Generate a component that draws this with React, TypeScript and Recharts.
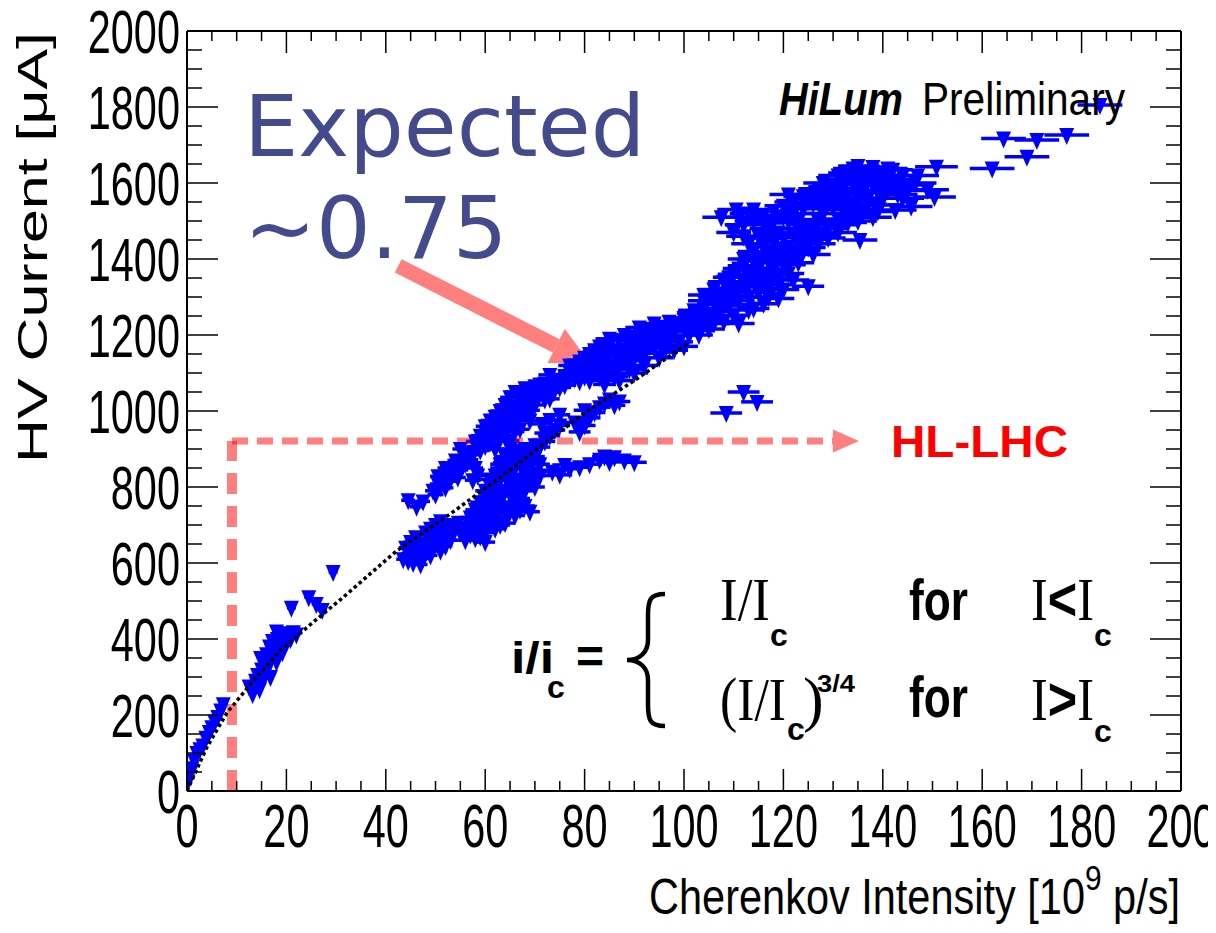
import React from 'react';
import { ScatterChart, Scatter, XAxis, YAxis, ErrorBar, ReferenceLine } from 'recharts';

// Cherenkov intensity [1e9 p/s] vs HV current [uA]
const originRun = [[0.2, 25], [0.6, 45], [1, 60], [1.5, 80], [2, 100], [2.6, 110], [3.2, 120], [3.8, 140], [4.5, 155], [5, 168], [5.6, 182], [6.2, 195], [6.8, 212], [7.3, 228]];
const lowBlob = [[12.5, 275], [13.2, 255], [13.8, 290], [14.2, 305], [14.6, 268], [15, 320], [15.2, 290], [15.6, 340], [15.8, 310], [16, 360], [16.4, 330], [16.6, 380], [17, 350], [17.2, 395], [17.6, 370], [18, 340], [18.2, 400], [18.6, 385], [19, 410], [19.2, 365], [19.8, 395], [20.2, 415], [20.8, 400], [21.4, 418], [22, 412], [16.8, 300], [18, 420], [14.8, 350], [14, 280], [15, 300], [16, 340], [17, 370], [18, 360], [19, 390], [20, 390], [21, 405]];
const midRun = [[21, 482], [24.5, 510], [26, 492], [27.2, 476], [29.4, 576]];
const dBlob = [[43.5, 610], [44.5, 625], [45.2, 640], [46, 618], [46.5, 632], [47.2, 650], [48, 638], [48.6, 662], [49.4, 648], [50, 672], [50.8, 660], [51.5, 688], [52.2, 675], [53, 700], [53.8, 688], [54.6, 706], [45.5, 600], [52, 645], [47.5, 612], [44, 640], [45, 655], [46, 668], [48, 680], [49, 690], [50, 700], [51, 710], [49, 620], [51, 632], [53, 660], [55, 680], [44.5, 605], [47, 596]];
const eRun = [[44.5, 765], [46.2, 748], [47.5, 762]];
const fBand = [[49.5, 790], [50.5, 808], [51.5, 822], [52, 798], [53, 838], [54, 852], [55, 845], [56, 862], [57, 872], [52.8, 815], [50.5, 828], [57.5, 818], [58.5, 830], [54.5, 825], [50, 780], [51, 800], [53, 820], [55, 860], [56, 880], [54, 870], [52, 850], [58, 850], [57, 890], [55, 900]];
const gBand = [[57.5, 885], [59, 896], [60, 908], [61, 918], [62, 900], [63, 926], [64, 936], [65, 922], [66, 946], [67, 952], [60, 928], [58.2, 906], [61.5, 940], [63.5, 955], [60, 945], [61, 960], [64, 955], [65, 965], [58, 920], [59, 935], [60, 960], [61, 975], [62, 945], [63, 960]];
const hBand = [[62, 962], [63, 978], [64, 992], [65, 1002], [66, 1012], [67, 1022], [68, 1032], [69, 1002], [70, 1040], [71, 1046], [72, 1052], [73, 1032], [74, 1056], [66, 978], [68, 992], [64, 1016], [70, 1016], [65, 1036], [62, 985], [63, 1000], [66, 1050], [68, 1060], [70, 1065], [69, 1050], [67, 1040], [71, 1070], [73, 1070], [67, 985], [69, 975], [64, 975], [65, 985], [66, 995], [67, 1005], [68, 1015], [69, 1025], [70, 1030], [71, 1060], [72, 1030], [73, 1050]];
const iBand = [[72, 1072], [74, 1082], [75, 1062], [76, 1092], [77, 1102], [78, 1086], [79, 1112], [80, 1100], [81, 1120], [82, 1106], [83, 1126], [76, 1068], [79, 1078], [73, 1095], [77, 1120], [78, 1120], [80, 1140], [82, 1160], [81, 1080], [84, 1070], [74, 1070], [75, 1080], [76, 1080], [77, 1085], [79, 1130], [81, 1150], [83, 1170]];
const jBand = [[84, 1130], [86, 1150], [88, 1160], [90, 1170], [92, 1180], [94, 1190], [96, 1200], [98, 1210], [100, 1220], [102, 1230], [104, 1236], [106, 1242], [85, 1172], [87, 1186], [89, 1196], [91, 1202], [93, 1216], [95, 1222], [97, 1190], [99, 1182], [101, 1200], [88, 1132], [90, 1146], [92, 1152], [94, 1166], [83, 1152], [86, 1116], [96, 1172], [82, 1140], [84, 1100], [85, 1190], [88, 1200], [91, 1220], [94, 1230], [97, 1235], [100, 1245], [86, 1090], [89, 1110], [92, 1120], [95, 1140], [98, 1160], [100, 1170], [103, 1200], [90, 1100], [87, 1080], [96, 1155], [85, 1150], [87, 1160], [89, 1175], [91, 1185], [93, 1195], [95, 1205], [97, 1215], [99, 1230], [101, 1240], [80, 1090], [83, 1090], [85, 1110], [87, 1120], [89, 1140], [91, 1160], [93, 1170], [95, 1185]];
const kBand = [[101, 1226], [103, 1242], [105, 1252], [107, 1262], [109, 1276], [111, 1290], [113, 1300], [115, 1312], [117, 1322], [119, 1332], [104, 1270], [106, 1286], [108, 1300], [110, 1320], [112, 1340], [114, 1350], [116, 1362], [118, 1372], [110, 1252], [113, 1266], [116, 1282], [119, 1296], [107, 1310], [105, 1216], [108, 1236], [120, 1386], [121, 1362], [117, 1392], [112, 1382], [109, 1352], [125, 1328], [102, 1250], [104, 1290], [106, 1320], [108, 1340], [110, 1360], [112, 1400], [114, 1420], [103, 1212], [111, 1230], [114, 1270], [117, 1300], [120, 1320], [122, 1345], [118, 1350], [115, 1375], [113, 1330], [106, 1230], [109, 1320], [100, 1240], [121, 1410], [123, 1390], [102, 1265], [104, 1305], [107, 1285], [109, 1300], [111, 1315], [113, 1355], [115, 1340], [117, 1350], [119, 1360], [108, 1280], [111, 1375], [114, 1395], [118, 1400], [122, 1415]];
const lBand = [[115, 1402], [117, 1412], [119, 1422], [121, 1432], [123, 1442], [125, 1452], [127, 1462], [118, 1442], [120, 1456], [122, 1466], [124, 1422], [126, 1412], [116, 1432], [120, 1396], [135.4, 1450], [110, 1470], [115, 1460], [119, 1470], [123, 1480], [121, 1385], [123, 1415], [125, 1430], [127, 1440], [129, 1455], [113, 1440], [116, 1455], [118, 1465], [124, 1470], [126, 1480], [112, 1460]];
const mBand = [[107.5, 1510], [110.5, 1530], [112, 1490], [114, 1500], [116, 1515], [118, 1526], [120, 1540], [122, 1550], [124, 1532], [126, 1546], [128, 1520], [130, 1536], [132, 1550], [134, 1540], [136, 1526], [138, 1510], [121, 1500], [125, 1490], [129, 1480], [133, 1496], [117, 1480], [113, 1520], [127, 1556], [135, 1556], [139, 1542], [131, 1470], [127, 1500], [131, 1505], [135, 1500], [137, 1560], [140, 1560], [129, 1560], [125, 1560], [121, 1570], [133, 1570], [122, 1520], [118, 1500], [114, 1530], [111, 1510], [131, 1490], [133, 1520], [135, 1530], [137, 1545], [139, 1525], [128, 1540], [130, 1555], [132, 1530], [134, 1515], [123, 1500], [120, 1510], [116, 1495]];
const nBand = [[130, 1576], [131, 1596], [132, 1610], [133, 1626], [134, 1638], [135, 1620], [136, 1602], [137, 1616], [138, 1630], [139, 1612], [140, 1596], [141, 1620], [142, 1606], [143, 1590], [128, 1580], [126, 1570], [124, 1565], [136, 1580], [139, 1576], [132, 1586], [128, 1600], [131, 1620], [135, 1645], [138, 1642], [141, 1638], [144, 1620], [144, 1595], [141, 1580], [143, 1570], [145, 1580], [136, 1575], [138, 1595], [140, 1615], [142, 1635], [134, 1600], [129, 1590], [127, 1585]];
const oRun = [[142.5, 1529], [145.7, 1538], [146.5, 1600], [149, 1582], [150.4, 1563], [150.8, 1643], [147, 1620], [144, 1560]];
const qRun = [[162, 1638], [164.3, 1717], [169, 1669], [171, 1713], [177, 1726], [183.7, 1805]];
const rBand = [[56, 660], [57, 675], [58, 690], [59, 700], [60, 680], [61, 710], [62, 720], [63, 700], [64, 735], [65, 745], [66, 725], [67, 740], [68, 750], [58, 665], [60, 655], [62, 690], [64, 705], [66, 760], [69, 735], [57, 700], [59, 670], [56, 690], [57, 720], [58, 740], [58, 710], [59, 730], [60, 720], [61, 740], [62, 750], [63, 760], [63, 740]];
const sBand = [[60, 760], [61, 780], [62, 800], [63, 820], [64, 840], [65, 860], [66, 880], [67, 895], [68, 870], [69, 850], [70, 830], [71, 860], [62, 770], [64, 790], [66, 810], [68, 830], [70, 880], [65, 830], [63, 850], [67, 800], [69, 900], [61, 820], [59, 760], [60, 790], [61, 800], [62, 830], [63, 860], [64, 880], [65, 900], [66, 850], [67, 860], [68, 900], [69, 880], [70, 910], [67, 770], [68, 790], [69, 810], [70, 800], [71, 830], [65, 780], [66, 790], [67, 820], [65, 800]];
const tRun = [[71, 905], [72, 920], [73, 935], [74, 950], [75, 962], [72, 942], [71.5, 966], [73, 976], [75, 990]];
const uRun = [[73.5, 840], [75, 832], [77, 848], [79, 852], [81, 860], [83, 872], [85, 866], [86, 878], [88, 870], [90, 865], [76, 858], [84, 880]];
const vRun = [[79, 945], [80, 962], [81, 982], [82, 996], [83, 1010], [84, 1020], [85, 1030], [86, 1015], [87, 1025], [80, 1002], [78, 970]];
const wRun = [[108.5, 995], [112, 1050], [114.7, 1024]];

// horizontal error (half width) of each cluster
const clusters: [number[][], number][] = [
  [originRun, 0.3], [lowBlob, 0.6], [midRun, 0.9], [dBlob, 1.4], [eRun, 1.4], [fBand, 1.6],
  [gBand, 1.9], [hBand, 2], [iBand, 2.3], [jBand, 2.8], [kBand, 3.2], [lBand, 3.5], [mBand, 3.8],
  [nBand, 4], [oRun, 4.3], [qRun, 4.5], [rBand, 2], [sBand, 2], [tRun, 2.1], [uRun, 2.5],
  [vRun, 2.2], [wRun, 3.2],
];

// dotted ~0.75 expectation curve
const fitX = [0, 4, 8, 14, 19, 25, 31, 42, 52, 62, 71, 80, 90, 101];
const fitY = [0, 115, 205, 300, 372, 440, 505, 630, 720, 815, 905, 995, 1080, 1180];

const xTicks = [0, 5, 10, 15, 20, 25, 30, 35, 40, 45, 50, 55, 60, 65, 70, 75, 80, 85, 90, 95, 100, 105, 110, 115, 120, 125, 130, 135, 140, 145, 150, 155, 160, 165, 170, 175, 180, 185, 190, 195, 200];
const yTicks = [0, 50, 100, 150, 200, 250, 300, 350, 400, 450, 500, 550, 600, 650, 700, 750, 800, 850, 900, 950, 1000, 1050, 1100, 1150, 1200, 1250, 1300, 1350, 1400, 1450, 1500, 1550, 1600, 1650, 1700, 1750, 1800, 1850, 1900, 1950, 2000];

const hlLhcLevel = 921;
const hlLhcIntensity = 9.05;
const hlArrowEnd = 135.2;
const bigArrowFrom = { x: 42.5, y: 1382 };
const bigArrowTo = { x: 81.1, y: 1126 };

const points = clusters.flatMap(([pts, ex]) => pts.map(([x, y]) => ({ x, y, ex })));
const fitData = fitX.map((x, i) => ({ x, y: fitY[i] }));

const SANS = 'Liberation Sans, Arial, Helvetica, sans-serif';
const SERIF = 'Liberation Serif, Times New Roman, serif';

const Triangle = ({ cx, cy }: any) => (
  <polygon points={`${cx - 7.5},${cy - 7} ${cx + 7.5},${cy - 7} ${cx},${cy + 10}`} fill="#0000ff" />
);

const FitLine = ({ points: pts }: any) => (
  <polyline points={pts.map((p: any) => `${p.x},${p.y}`).join(' ')} fill="none" stroke="#000" strokeWidth={3.5} strokeDasharray="3.5 3" />
);

const BottomTick = ({ x, y, payload }: any) => {
  const major = payload.value % 20 === 0;
  return (
    <g>
      <line x1={x} x2={x} y1={y} y2={y - (major ? 22 : 10)} stroke="#000" strokeWidth={1.5} />
      {major && (
        <text transform={`translate(${x},${y + 56}) scale(0.68,1)`} textAnchor="middle" fontFamily={SANS} fontSize={61} fill="#000">
          {payload.value}
        </text>
      )}
    </g>
  );
};

const TopTick = ({ x, y, payload }: any) => {
  const major = payload.value % 20 === 0;
  return <line x1={x} x2={x} y1={y} y2={y + (major ? 22 : 10)} stroke="#000" strokeWidth={1.5} />;
};

const LeftTick = ({ x, y, payload }: any) => {
  const major = payload.value % 200 === 0;
  return (
    <g>
      <line x1={x} x2={x + (major ? 31 : 15)} y1={y} y2={y} stroke="#000" strokeWidth={1.5} />
      {major && (
        <text transform={`translate(${x - 7},${y + 22}) scale(0.68,1)`} textAnchor="end" fontFamily={SANS} fontSize={61} fill="#000">
          {payload.value}
        </text>
      )}
    </g>
  );
};

const RightTick = ({ x, y, payload }: any) => {
  const major = payload.value % 200 === 0;
  return <line x1={x} x2={x - (major ? 31 : 15)} y1={y} y2={y} stroke="#000" strokeWidth={1.5} />;
};

const VerticalDash = ({ x1, y1, x2, y2 }: any) => (
  <line x1={x1} y1={y1} x2={x2} y2={y2} stroke="#ff0000" strokeOpacity={0.5} strokeWidth={10} strokeDasharray="21 12" />
);

const HorizontalDashArrow = ({ x1, y1, x2 }: any) => (
  <g opacity={0.5}>
    <line x1={x1} y1={y1} x2={x2 - 26} y2={y1} stroke="#ff0000" strokeWidth={7} strokeDasharray="16 9" />
    <polygon points={`${x2},${y1} ${x2 - 26},${y1 - 11.5} ${x2 - 26},${y1 + 11.5}`} fill="#ff0000" />
  </g>
);

const BigArrow = ({ x1, y1, x2, y2 }: any) => {
  const len = Math.hypot(x2 - x1, y2 - y1);
  const ux = (x2 - x1) / len;
  const uy = (y2 - y1) / len;
  const bx = x2 - ux * 38;
  const by = y2 - uy * 38;
  return (
    <g opacity={0.5}>
      <line x1={x1} y1={y1} x2={bx} y2={by} stroke="#ff0000" strokeWidth={15} />
      <polygon points={`${x2},${y2} ${bx - uy * 19},${by + ux * 19} ${bx + uy * 19},${by - ux * 19}`} fill="#ff0000" />
    </g>
  );
};

const axisLine = { stroke: '#000', strokeWidth: 2 };

export default function App() {
  return (
    <div style={{ position: 'relative', width: 1208, height: 917, background: '#fff' }}>
      <ScatterChart width={1208} height={917} margin={{ top: 22, right: 34, bottom: 133, left: 178 }}>
        <XAxis xAxisId={0} type="number" dataKey="x" domain={[0, 200]} ticks={xTicks} interval={0} height={1}
          tickSize={0} tickMargin={0} tickLine={false} axisLine={axisLine} tick={<BottomTick />} allowDataOverflow />
        <XAxis xAxisId="top" orientation="top" type="number" dataKey="x" domain={[0, 200]} ticks={xTicks} interval={0} height={1}
          tickSize={0} tickMargin={0} tickLine={false} axisLine={axisLine} tick={<TopTick />} allowDataOverflow />
        <YAxis yAxisId={0} type="number" dataKey="y" domain={[0, 2000]} ticks={yTicks} interval={0} width={1}
          tickSize={0} tickMargin={0} tickLine={false} axisLine={axisLine} tick={<LeftTick />} allowDataOverflow />
        <YAxis yAxisId="right" orientation="right" type="number" dataKey="y" domain={[0, 2000]} ticks={yTicks} interval={0} width={1}
          tickSize={0} tickMargin={0} tickLine={false} axisLine={axisLine} tick={<RightTick />} allowDataOverflow />
        <Scatter data={points} shape={<Triangle />} isAnimationActive={false}>
          <ErrorBar dataKey="ex" direction="x" width={0} stroke="#0000ff" strokeWidth={3.5} isAnimationActive={false} />
        </Scatter>
        <Scatter data={fitData} shape={() => <g />} isAnimationActive={false} line={FitLine} />
        <ReferenceLine segment={[{ x: hlLhcIntensity, y: 0 }, { x: hlLhcIntensity, y: hlLhcLevel }]} shape={<VerticalDash />} />
        <ReferenceLine segment={[{ x: hlLhcIntensity, y: hlLhcLevel }, { x: hlArrowEnd, y: hlLhcLevel }]} shape={<HorizontalDashArrow />} />
        <ReferenceLine segment={[bigArrowFrom, bigArrowTo]} shape={<BigArrow />} />
      </ScatterChart>

      <svg width={1216} height={933} style={{ position: 'absolute', left: -8, top: -8, pointerEvents: 'none' }}>
        {/* axis titles */}
        <text transform="translate(47,247.5) scale(0.7,1) rotate(-90)" textAnchor="middle" fontFamily={SANS} fontSize={60}
          textLength={431} lengthAdjust="spacingAndGlyphs">HV Current [μA]</text>
        <text transform="translate(1180,914) scale(0.83,1)" textAnchor="end" fontFamily={SANS} fontSize={50}>
          Cherenkov Intensity [10<tspan fontSize={36} dy={-24}>9</tspan><tspan dy={24}> p/s]</tspan>
        </text>

        {/* annotations */}
        <text x={244} y={156} fontFamily="DejaVu Sans, sans-serif" fontSize={86} fill="#434b8c">Expected</text>
        <text x={244} y={258} fontFamily="DejaVu Sans, sans-serif" fontSize={86} fill="#434b8c">~0.75</text>
        <text x={779} y={115} fontFamily={SANS} fontSize={46} fontWeight="bold" fontStyle="italic" textLength={124} lengthAdjust="spacingAndGlyphs">HiLum</text>
        <text x={922} y={115} fontFamily={SANS} fontSize={46} textLength={203} lengthAdjust="spacingAndGlyphs">Preliminary</text>
        <text x={891} y={457} fontFamily={SANS} fontSize={45} fontWeight="bold" fill="#ff0000" textLength={177} lengthAdjust="spacingAndGlyphs">HL-LHC</text>

        {/* formula */}
        <g fill="#000">
          <text x={511} y={673} fontFamily={SANS} fontWeight="bold" fontSize={44} textLength={43} lengthAdjust="spacingAndGlyphs">i/i</text>
          <text x={547} y={698} fontFamily={SANS} fontWeight="bold" fontSize={32}>c</text>
          <text x={576} y={673} fontFamily={SANS} fontWeight="bold" fontSize={48}>=</text>
          <path d="M665,594 C650,594 648,600 648,615 L648,640 C648,652 640,660 627,660 C640,660 648,668 648,680 L648,705 C648,720 650,726 665,726"
            fill="none" stroke="#000" strokeWidth={4.5} />

          <text x={720} y={620} fontFamily={SERIF} fontSize={62} textLength={50} lengthAdjust="spacingAndGlyphs">I/I</text>
          <text x={770} y={646} fontFamily={SANS} fontWeight="bold" fontSize={32}>c</text>
          <text x={909} y={620} fontFamily={SANS} fontWeight="bold" fontSize={58} textLength={59} lengthAdjust="spacingAndGlyphs">for</text>
          <text x={1031} y={620} fontFamily={SERIF} fontSize={62} textLength={63} lengthAdjust="spacingAndGlyphs">
            I<tspan fontFamily={SANS} fontWeight="bold">&lt;</tspan>I
          </text>
          <text x={1094} y={646} fontFamily={SANS} fontWeight="bold" fontSize={32}>c</text>

          <text x={720} y={720} fontFamily={SERIF} fontSize={62} textLength={66} lengthAdjust="spacingAndGlyphs">(I/I</text>
          <text x={787} y={740} fontFamily={SANS} fontWeight="bold" fontSize={32}>c</text>
          <text x={803} y={720} fontFamily={SERIF} fontSize={62}>)</text>
          <text x={817} y={692} fontFamily={SANS} fontWeight="bold" fontSize={24} textLength={38} lengthAdjust="spacingAndGlyphs">3/4</text>
          <text x={909} y={717} fontFamily={SANS} fontWeight="bold" fontSize={58} textLength={59} lengthAdjust="spacingAndGlyphs">for</text>
          <text x={1031} y={720} fontFamily={SERIF} fontSize={62} textLength={63} lengthAdjust="spacingAndGlyphs">
            I<tspan fontFamily={SANS} fontWeight="bold">&gt;</tspan>I
          </text>
          <text x={1094} y={742} fontFamily={SANS} fontWeight="bold" fontSize={32}>c</text>
        </g>
      </svg>
    </div>
  );
}
